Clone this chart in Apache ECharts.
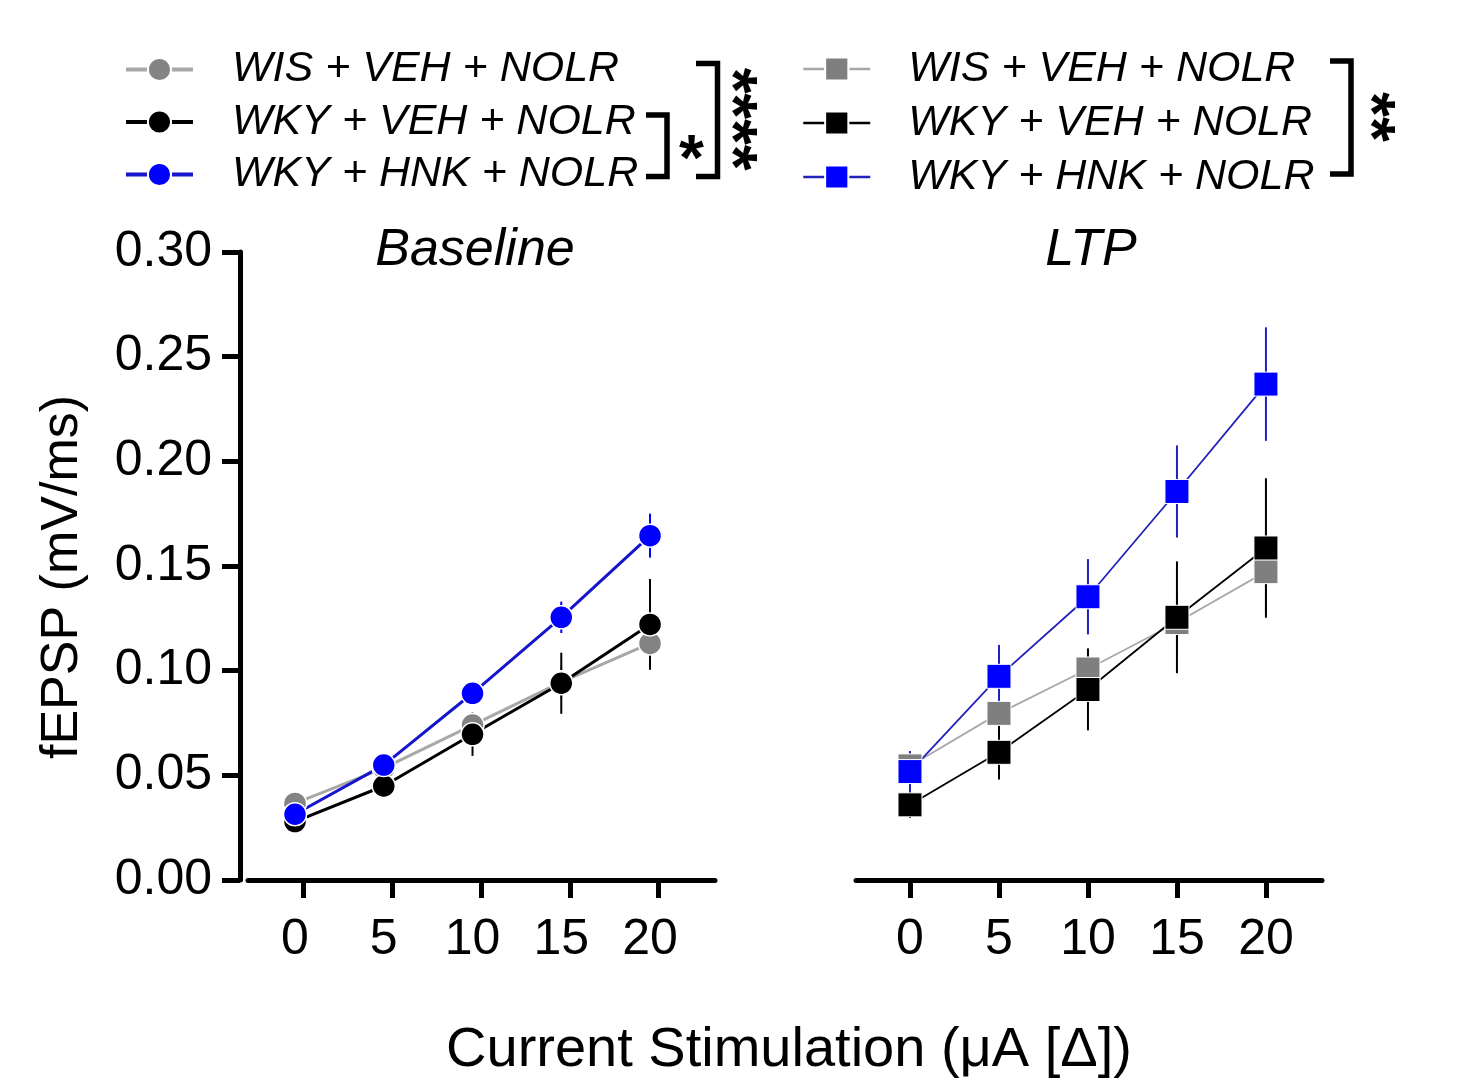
<!DOCTYPE html>
<html>
<head>
<meta charset="utf-8">
<script src="https://cdn.jsdelivr.net/npm/echarts@6/dist/echarts.min.js"></script>
<style>html,body{margin:0;padding:0;background:#fff;}#c{width:1471px;height:1080px;}</style>
</head>
<body>
<div id="c"></div>
<script>
// ---- data ----
const xValues = [0, 5, 10, 15, 20];
const xTicks = [0, 5, 10, 15, 20];
const groupNames = ['WIS + VEH + NOLR', 'WKY + VEH + NOLR', 'WKY + HNK + NOLR'];

const baseWisVeh = [0.0366, 0.0534, 0.0740, 0.0945, 0.1130];
const baseWisVehErr = [0.003, 0.004, 0.006, 0.008, 0.010];
const baseWkyVeh = [0.0279, 0.0449, 0.0696, 0.0940, 0.1221];
const baseWkyVehErr = [0.003, 0.004, 0.0103, 0.0146, 0.0217];
const baseWkyHnk = [0.0314, 0.0549, 0.0892, 0.1255, 0.1645];
const baseWkyHnkErr = [0.003, 0.003, 0.004, 0.0075, 0.0105];

const ltpWisVeh = [0.0545, 0.0796, 0.1008, 0.1230, 0.1473];
const ltpWisVehErr = [0.004, 0.008, 0.010, 0.015, 0.020];
const ltpWkyVeh = [0.0359, 0.0610, 0.0910, 0.1255, 0.1586];
const ltpWkyVehErr = [0.0063, 0.013, 0.0195, 0.0267, 0.0333];
const ltpWkyHnk = [0.0518, 0.0973, 0.1353, 0.1856, 0.2369];
const ltpWkyHnkErr = [0.0098, 0.015, 0.018, 0.022, 0.0271];

const yTickInterval = 0.05;

// ---- helpers ----
const FONT = "'Liberation Sans', Arial, Helvetica, sans-serif";
function triples(vals, errs) { return xValues.map((x, i) => [x, vals[i], errs[i]]); }
function pairs(vals) { return xValues.map((x, i) => [x, vals[i]]); }

function errSeries(name, vals, errs, color, xi, yi, w) {
  return {
    type: 'custom', name: name + ' err', xAxisIndex: xi, yAxisIndex: yi,
    data: triples(vals, errs), encode: { x: 0, y: 1 }, silent: true,
    renderItem: function (params, api) {
      const x = api.value(0), y = api.value(1), e = api.value(2);
      const p1 = api.coord([x, y + e]), p2 = api.coord([x, y - e]);
      return { type: 'line', shape: { x1: p1[0], y1: p1[1], x2: p2[0], y2: p2[1] },
        style: { stroke: color, lineWidth: w } };
    }
  };
}
function lineSeries(name, vals, lineColor, markColor, symbol, size, lw, xi, yi, bw) {
  return {
    type: 'line', name: name, xAxisIndex: xi, yAxisIndex: yi, data: pairs(vals),
    symbol: symbol, symbolSize: size, showAllSymbol: true,
    lineStyle: { color: lineColor, width: lw },
    itemStyle: { color: markColor, borderColor: '#fff', borderWidth: bw, opacity: 1 },
    emphasis: { disabled: true }, z: 2
  };
}

const colGray = '#848484', colGrayLine = '#a8a8a8', colBlack = '#000000', colBlue = '#0000ff', colBlueLine = '#1515cc';

const series = [
  errSeries('b0', baseWisVeh, baseWisVehErr, colGray, 0, 0, 2),
  lineSeries(groupNames[0], baseWisVeh, colGrayLine, colGray, 'circle', 23, 3, 0, 0, 1.5),
  errSeries('b1', baseWkyVeh, baseWkyVehErr, colBlack, 0, 0, 2),
  lineSeries(groupNames[1], baseWkyVeh, colBlack, colBlack, 'circle', 23, 3, 0, 0, 1.5),
  errSeries('b2', baseWkyHnk, baseWkyHnkErr, colBlue, 0, 0, 2),
  lineSeries(groupNames[2], baseWkyHnk, colBlueLine, colBlue, 'circle', 23, 3, 0, 0, 1.5),

  errSeries('l0', ltpWisVeh, ltpWisVehErr, colGray, 2, 1, 2),
  lineSeries('LTP|' + groupNames[0], ltpWisVeh, colGrayLine, '#7f7f7f', 'rect', 24, 1.8, 2, 1, 1),
  errSeries('l1', ltpWkyVeh, ltpWkyVehErr, colBlack, 2, 1, 2),
  lineSeries('LTP|' + groupNames[1], ltpWkyVeh, colBlack, colBlack, 'rect', 24, 1.8, 2, 1, 1),
  errSeries('l2', ltpWkyHnk, ltpWkyHnkErr, '#2020c0', 2, 1, 2),
  lineSeries('LTP|' + groupNames[2], ltpWkyHnk, '#2222bb', colBlue, 'rect', 24, 1.8, 2, 1, 1)
];

const labelStyle = { fontSize: 50, fontFamily: FONT, color: '#000' };

function bracket(x1, x2, top, bottom) {
  return { type: 'polyline', silent: true, z: 10,
    shape: { points: [[x1, top], [x2, top], [x2, bottom], [x1, bottom]] },
    style: { stroke: '#000', lineWidth: 5.5, fill: null, lineJoin: 'miter' } };
}
function txt(text, x, y, font, rot, align) {
  return { type: 'text', silent: true, z: 10, x: x, y: y, rotation: rot || 0,
    style: { text: text, font: font, fill: '#000', align: align || 'center', verticalAlign: 'middle',
      textAlign: align || 'center', textVerticalAlign: 'middle' } };
}

const option = {
  animation: false,
  backgroundColor: '#fff',
  grid: [
    { left: 248, top: 252, width: 467, height: 628 },
    { left: 856, top: 252, width: 466, height: 628 }
  ],
  xAxis: [
    { gridIndex: 0, type: 'value', position: 'bottom', min: -2.648, max: 23.66,
      axisLine: { show: false }, axisTick: { show: false }, splitLine: { show: false },
      axisLabel: Object.assign({ customValues: xTicks, margin: 35 }, labelStyle) },
    { gridIndex: 0, type: 'value', position: 'bottom', min: -3.128, max: 23.18,
      axisLine: { show: true, onZero: false, lineStyle: { color: '#000', width: 5 } },
      axisTick: { show: true, customValues: xTicks, length: 18, lineStyle: { color: '#000', width: 5 } },
      axisLabel: { show: false }, splitLine: { show: false } },
    { gridIndex: 1, type: 'value', position: 'bottom', min: -3.034, max: 23.15,
      axisLine: { show: true, onZero: false, lineStyle: { color: '#000', width: 5 } },
      axisTick: { show: true, customValues: xTicks, length: 18, lineStyle: { color: '#000', width: 5 } },
      axisLabel: Object.assign({ customValues: xTicks, margin: 35 }, labelStyle),
      splitLine: { show: false } }
  ],
  yAxis: [
    { gridIndex: 0, type: 'value', min: 0, max: 0.30, interval: yTickInterval, offset: 8,
      axisLine: { show: true, onZero: false, lineStyle: { color: '#000', width: 5 } },
      axisTick: { show: true, length: 18, lineStyle: { color: '#000', width: 5 } },
      axisLabel: Object.assign({ margin: 28, formatter: v => v.toFixed(2) }, labelStyle),
      splitLine: { show: false } },
    { gridIndex: 1, type: 'value', min: 0, max: 0.30, interval: yTickInterval, show: false,
      splitLine: { show: false } }
  ],
  legend: [
    { orient: 'vertical', left: 124, top: 48, padding: 0, itemWidth: 67, itemHeight: 29, itemGap: 9.5,
      selectedMode: false, data: groupNames.slice(),
      lineStyle: { width: 4 },
      textStyle: { fontSize: 43, fontStyle: 'italic', fontFamily: FONT, color: '#000', lineHeight: 43, padding: [0, 0, 0, 34] } },
    { orient: 'vertical', left: 802, top: 47.5, padding: 0, itemWidth: 67, itemHeight: 29, itemGap: 11,
      selectedMode: false, data: groupNames.map(n => 'LTP|' + n),
      formatter: n => n.split('|')[1],
      lineStyle: { width: 2.5 },
      textStyle: { fontSize: 43, fontStyle: 'italic', fontFamily: FONT, color: '#000', lineHeight: 43, padding: [0, 0, 0, 33] } }
  ],
  graphic: [
    bracket(646, 667, 115, 176.5),
    bracket(696, 717.5, 63.5, 176.5),
    bracket(1330, 1351, 61, 174),
    txt('*', 691.5, 162, 'bold 64px ' + FONT),
    txt('****', 729, 119, 'bold 66px ' + FONT, -Math.PI / 2),
    txt('**', 1368, 117, 'bold 64px ' + FONT, -Math.PI / 2),
    txt('Baseline', 475, 251, 'italic 52px ' + FONT),
    txt('LTP', 1091, 251, 'italic 52px ' + FONT),
    txt('fEPSP (mV/ms)', 63, 577, '52px ' + FONT, Math.PI / 2),
    txt('Current Stimulation (\u03bcA [\u0394])', 789, 1051, '56px ' + FONT)
  ],
  series: series
};

const chart = echarts.init(document.getElementById('c'), null, { renderer: 'canvas' });
chart.setOption(option);
</script>
</body>
</html>
